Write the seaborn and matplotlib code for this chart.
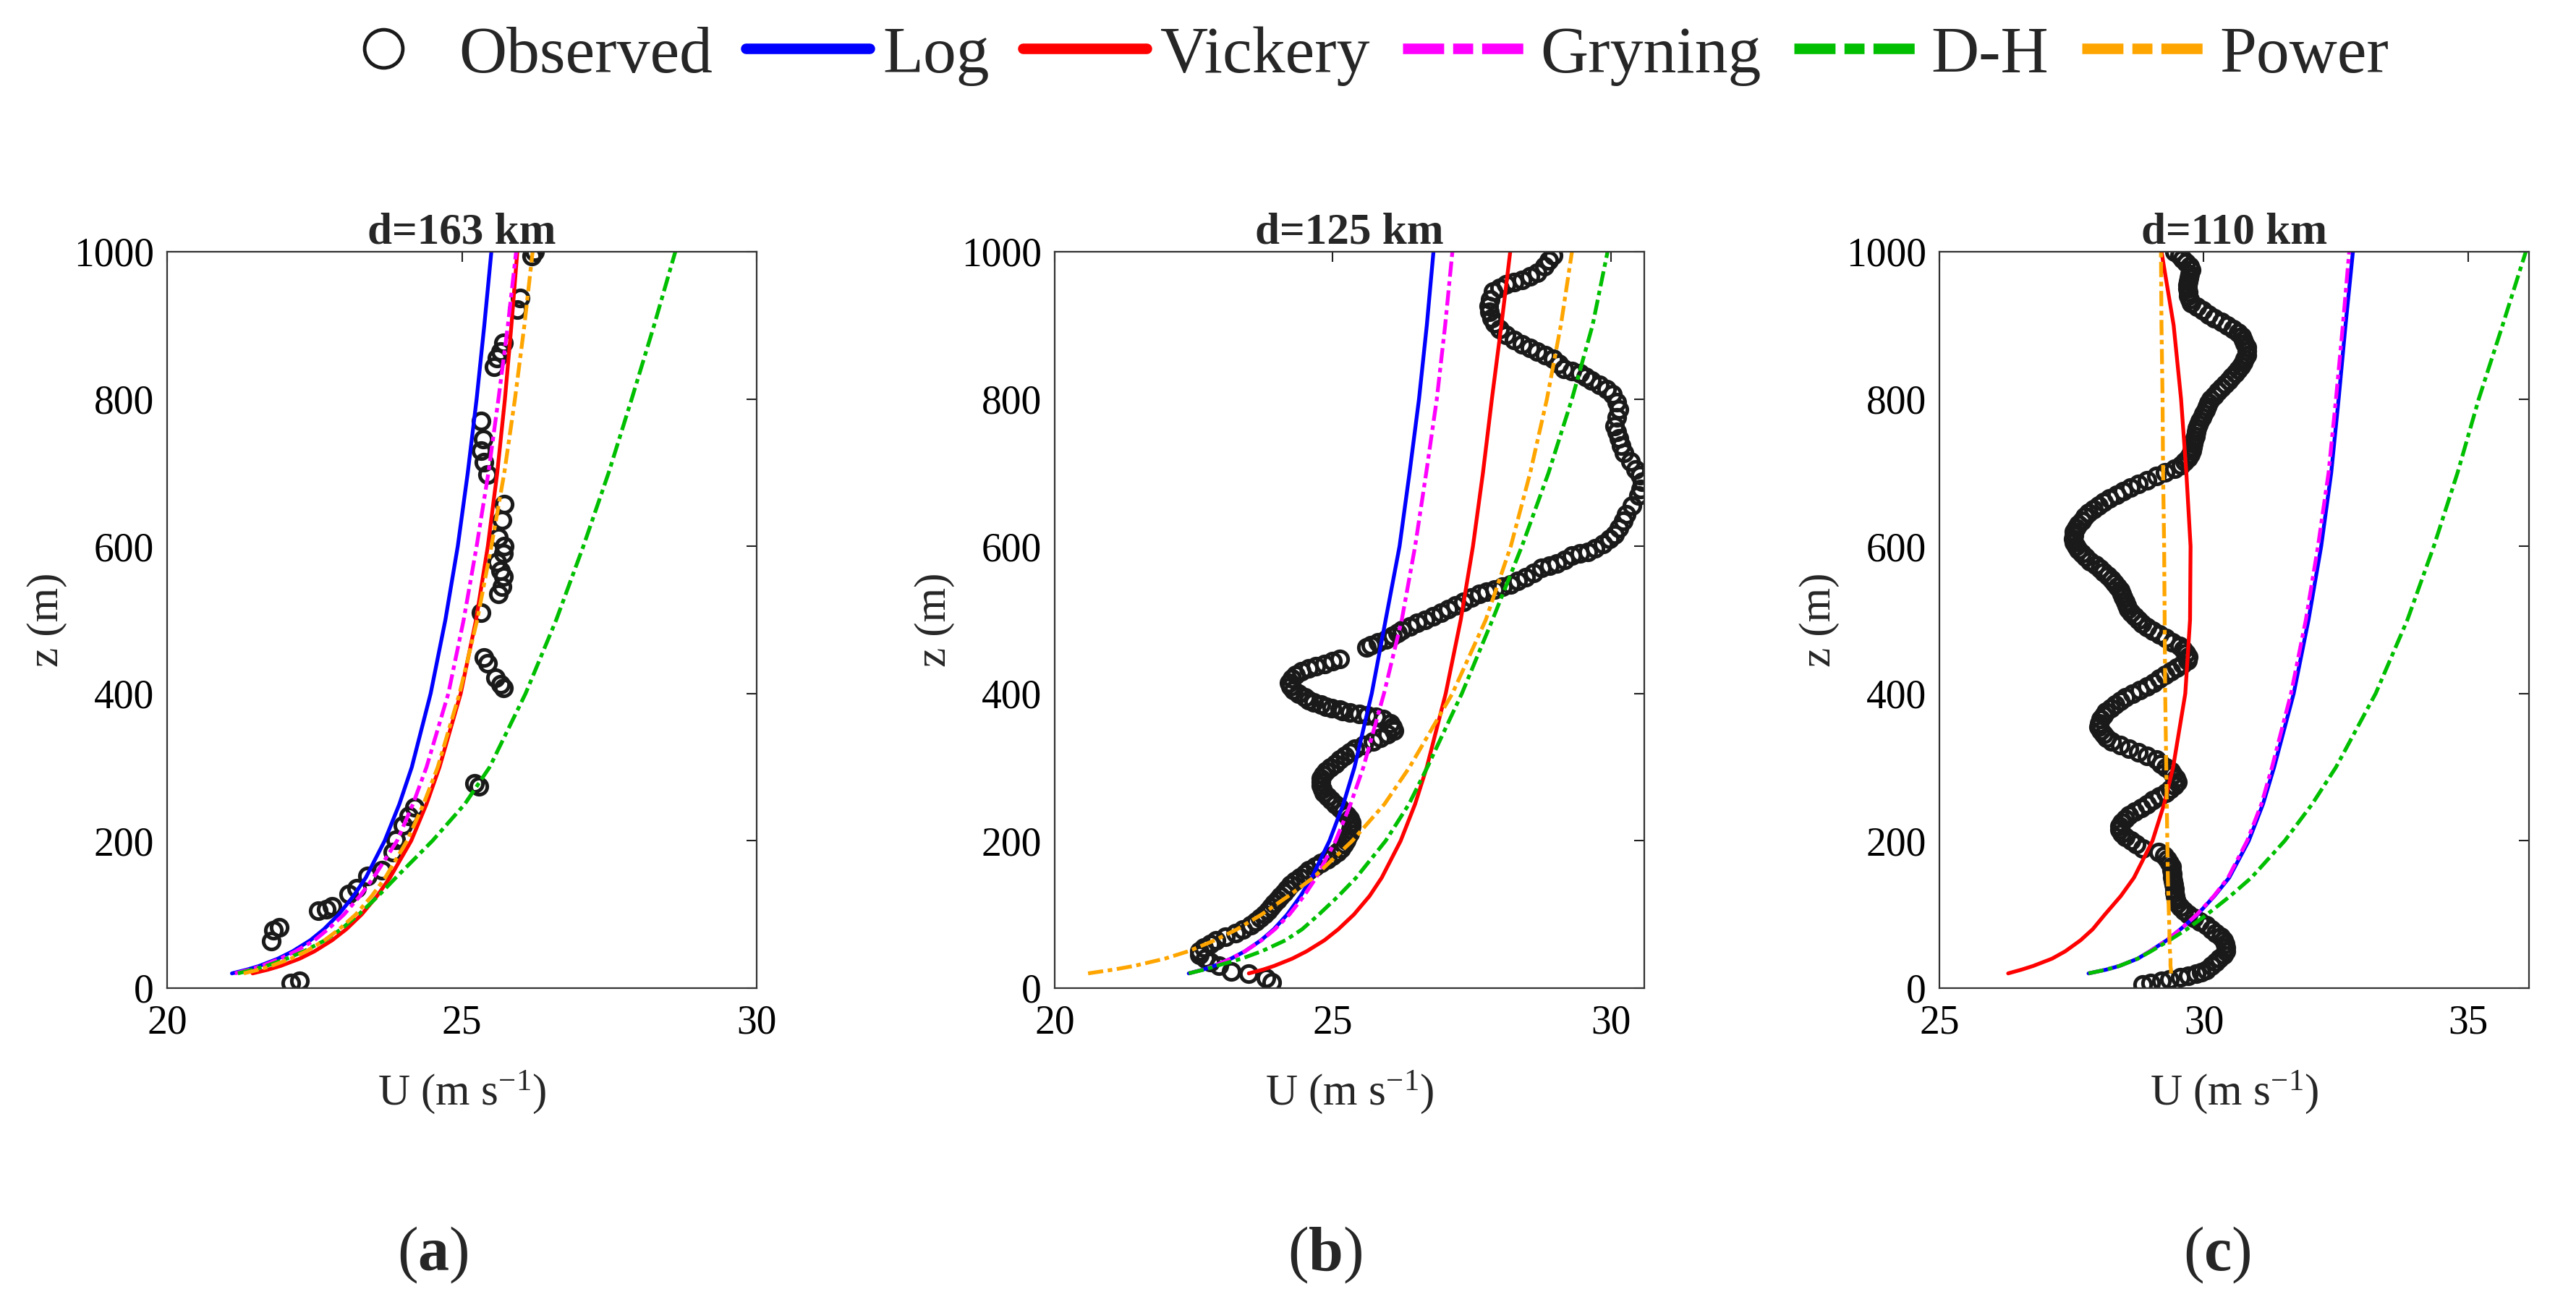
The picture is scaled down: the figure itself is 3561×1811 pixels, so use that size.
import matplotlib.pyplot as plt
import seaborn as sns
from matplotlib.lines import Line2D

Z_FIT = [20, 25, 30, 40, 50, 65, 80, 100, 125, 150, 200, 250, 300, 400, 500, 600, 700, 800, 900, 1000]

# ---- panel (a), d=163 km ----
LOG_A = [21.10, 21.35, 21.56, 21.88, 22.13, 22.43, 22.66, 22.91, 23.16, 23.37, 23.69, 23.94, 24.15, 24.47,
         24.72, 24.93, 25.10, 25.25, 25.38, 25.50]
VICKERY_A = [21.45, 21.71, 21.92, 22.25, 22.5, 22.8, 23.04, 23.3, 23.56, 23.78, 24.14, 24.4, 24.62, 24.98,
             25.24, 25.44, 25.6, 25.73, 25.84, 25.94]
GRYNING_A = [21.15, 21.4, 21.6, 21.92, 22.18, 22.5, 22.73, 23.0, 23.27, 23.5, 23.9, 24.17, 24.4, 24.77,
             25.03, 25.25, 25.45, 25.62, 25.78, 25.92]
DH_A = [21.2, 21.45, 21.68, 22.03, 22.32, 22.68, 22.95, 23.25, 23.58, 23.88, 24.5, 25.05, 25.47, 26.08,
        26.6, 27.06, 27.49, 27.88, 28.26, 28.62]
POWER_A = [21.3, 21.55, 21.76, 22.1, 22.36, 22.67, 22.92, 23.2, 23.47, 23.7, 24.07, 24.35, 24.59, 24.96,
           25.26, 25.5, 25.72, 25.9, 26.06, 26.2]
# observed (U, z)
OBS_A = [
    (22.25, 10), (22.1, 7), (21.77, 64), (21.8, 79), (21.9, 83), (22.56, 105), (22.7, 107), (22.8, 111),
    (23.08, 128), (23.22, 136), (23.4, 152), (23.64, 160), (23.83, 185), (23.88, 201), (24.0, 221),
    (24.1, 234), (24.2, 246), (25.22, 278), (25.29, 274), (25.71, 408), (25.66, 413), (25.57, 421),
    (25.43, 441), (25.38, 449), (25.33, 510), (25.62, 535), (25.68, 545), (25.7, 559), (25.66, 567),
    (25.6, 579), (25.7, 590), (25.72, 600), (25.62, 612), (25.68, 636), (25.72, 657), (25.43, 697),
    (25.38, 714), (25.33, 730), (25.36, 746), (25.33, 770), (25.55, 844), (25.66, 864), (25.6, 856),
    (25.7, 876), (25.94, 921), (25.99, 937), (26.18, 994), (26.23, 1000),
]

# ---- panel (b), d=125 km ----
LOG_B = [22.41, 22.66, 22.86, 23.17, 23.42, 23.71, 23.94, 24.18, 24.42, 24.62, 24.94, 25.19, 25.39, 25.7,
         25.95, 26.2, 26.38, 26.55, 26.69, 26.81]
VICKERY_B = [23.49, 23.74, 23.94, 24.27, 24.53, 24.85, 25.1, 25.38, 25.66, 25.88, 26.22, 26.48, 26.69, 27.03,
             27.3, 27.52, 27.7, 27.86, 28.03, 28.19]
GRYNING_B = [22.41, 22.66, 22.86, 23.17, 23.42, 23.72, 23.96, 24.22, 24.48, 24.7, 25.05, 25.32, 25.55, 25.92,
             26.24, 26.48, 26.68, 26.87, 27.02, 27.15]
DH_B = [22.41, 22.68, 22.9, 23.36, 23.72, 24.15, 24.45, 24.75, 25.1, 25.42, 25.95, 26.37, 26.7, 27.32,
        27.87, 28.4, 28.88, 29.3, 29.67, 29.94]
POWER_B = [20.6, 21.05, 21.42, 21.98, 22.4, 22.88, 23.28, 23.72, 24.2, 24.65, 25.35, 25.93, 26.38, 27.15,
           27.75, 28.2, 28.55, 28.85, 29.1, 29.3]
OBS_B = [
    (23.9, 8), (23.8, 14), (23.49, 20), (23.18, 23), (22.95, 30), (22.8, 35), (22.7, 40), (22.6, 45),
    (22.6, 50), (22.68, 55), (22.8, 60), (22.9, 65), (23.07, 70), (23.25, 75), (23.38, 80), (23.52, 85),
    (23.62, 90), (23.7, 95), (23.77, 100), (23.84, 105), (23.89, 110), (23.94, 115), (24.0, 120),
    (24.06, 125), (24.12, 130), (24.17, 135), (24.24, 140), (24.32, 145), (24.41, 150), (24.5, 155),
    (24.57, 160), (24.68, 165), (24.79, 170), (24.9, 175), (25.0, 180), (25.08, 185), (25.15, 190),
    (25.2, 195), (25.24, 200), (25.27, 205), (25.3, 210), (25.32, 215), (25.33, 220), (25.33, 225),
    (25.3, 230), (25.25, 235), (25.19, 240), (25.13, 245), (25.05, 250), (24.97, 255), (24.9, 260),
    (24.84, 265), (24.81, 270), (24.79, 275), (24.78, 280), (24.78, 285), (24.82, 290), (24.88, 295),
    (24.96, 300), (25.04, 305), (25.12, 310), (25.22, 315), (25.3, 320), (25.4, 325), (25.55, 330),
    (25.72, 335), (25.85, 340), (25.98, 345), (26.1, 350), (26.08, 355), (26.04, 360), (25.9, 365),
    (25.78, 368), (25.62, 370), (25.47, 372), (25.3, 374), (25.18, 376), (25.13, 378), (24.98, 380),
    (24.88, 382), (24.78, 385), (24.66, 388), (24.57, 391), (24.5, 395), (24.38, 400), (24.29, 405),
    (24.24, 410), (24.22, 415), (24.27, 420), (24.33, 425), (24.44, 430), (24.57, 434), (24.7, 437),
    (24.85, 440), (25.0, 444), (25.13, 447), (25.6, 463), (25.68, 466), (25.82, 470), (25.96, 473),
    (26.08, 478), (26.17, 482), (26.24, 486), (26.38, 491), (26.52, 496), (26.66, 500), (26.8, 505),
    (26.94, 510), (27.08, 515), (27.21, 520), (27.35, 525), (27.49, 530), (27.63, 535), (27.77, 538),
    (27.91, 541), (28.05, 545), (28.19, 548), (28.33, 553), (28.47, 558), (28.61, 564), (28.75, 571),
    (28.89, 574), (29.03, 577), (29.17, 582), (29.3, 587), (29.44, 590), (29.58, 592), (29.72, 597),
    (29.86, 603), (29.97, 610), (30.07, 616), (30.15, 625), (30.22, 635), (30.28, 643), (30.38, 655),
    (30.49, 669), (30.53, 678), (30.56, 688), (30.52, 696), (30.45, 704), (30.35, 715), (30.24, 727),
    (30.18, 737), (30.14, 747), (30.1, 755), (30.07, 763), (30.1, 775), (30.14, 786), (30.1, 796),
    (30.03, 806), (29.92, 813), (29.79, 819), (29.65, 825), (29.55, 830), (29.44, 835), (29.3, 838),
    (29.16, 841), (29.06, 848), (28.96, 855), (28.82, 860), (28.68, 864), (28.54, 869), (28.4, 874),
    (28.26, 880), (28.12, 887), (28.0, 895), (27.91, 903), (27.86, 910), (27.82, 918), (27.81, 926),
    (27.83, 935), (27.88, 946), (28.0, 951), (28.12, 956), (28.26, 959), (28.4, 962), (28.54, 967),
    (28.68, 972), (28.8, 980), (28.88, 988), (28.96, 995),
]

# ---- panel (c), d=110 km ----
LOG_C = [27.82, 28.15, 28.4, 28.75, 28.98, 29.3, 29.56, 29.88, 30.2, 30.48, 30.85, 31.12, 31.33, 31.7,
         31.98, 32.22, 32.41, 32.55, 32.68, 32.82]
VICKERY_C = [26.3, 26.55, 26.77, 27.13, 27.38, 27.67, 27.9, 28.13, 28.43, 28.68, 29.03, 29.25, 29.42, 29.65,
             29.74, 29.75, 29.67, 29.57, 29.43, 29.2]
GRYNING_C = [27.82, 28.15, 28.4, 28.75, 28.98, 29.3, 29.56, 29.87, 30.19, 30.46, 30.82, 31.09, 31.29, 31.65,
             31.93, 32.16, 32.36, 32.5, 32.63, 32.75]
DH_C = [27.82, 28.15, 28.4, 28.75, 29.0, 29.35, 29.68, 30.06, 30.5, 30.9, 31.53, 32.05, 32.5, 33.25,
        33.85, 34.35, 34.8, 35.2, 35.65, 36.09]
POWER_C = [29.38, 29.38, 29.37, 29.37, 29.36, 29.35, 29.35, 29.34, 29.33, 29.32, 29.31, 29.3, 29.29, 29.27,
           29.26, 29.25, 29.23, 29.22, 29.2, 29.19]
OBS_C = [
    (28.85, 5), (29.0, 7), (29.2, 10), (29.35, 12), (29.55, 15), (29.7, 17), (29.85, 20), (29.95, 22),
    (30.05, 25), (30.14, 30), (30.22, 35), (30.3, 40),
    (30.37, 45), (30.42, 50), (30.42, 55), (30.4, 60), (30.37, 65), (30.32, 70), (30.23, 75), (30.15, 80),
    (30.05, 85), (29.92, 90), (29.81, 95), (29.7, 100), (29.62, 105), (29.55, 110), (29.5, 115), (29.48, 120),
    (29.46, 125), (29.45, 130), (29.44, 135), (29.43, 140), (29.42, 145), (29.41, 150), (29.4, 155), (29.39, 160),
    (29.39, 165), (29.35, 170), (29.31, 175), (29.26, 180), (29.15, 185), (28.85, 190), (28.72, 195), (28.62, 200),
    (28.51, 205), (28.45, 210), (28.41, 215), (28.41, 220), (28.45, 225), (28.52, 230), (28.59, 235), (28.7, 240),
    (28.82, 245), (28.93, 250), (29.04, 255), (29.16, 260), (29.28, 265), (29.37, 270), (29.44, 275), (29.5, 280),
    (29.47, 285), (29.42, 290), (29.38, 295), (29.28, 300), (29.19, 305), (29.1, 310), (28.93, 315), (28.76, 320),
    (28.59, 325), (28.42, 330), (28.25, 335), (28.16, 340), (28.1, 345), (28.05, 350), (28.01, 355), (28.02, 360),
    (28.05, 365), (28.1, 370), (28.15, 375), (28.24, 380), (28.33, 385), (28.42, 390), (28.51, 395), (28.65, 400),
    (28.79, 405), (28.93, 410), (29.05, 415), (29.16, 420), (29.27, 425), (29.38, 430), (29.49, 435), (29.6, 440),
    (29.69, 445), (29.71, 450), (29.67, 455), (29.61, 460), (29.54, 465), (29.41, 470), (29.28, 475), (29.16, 480),
    (29.04, 485), (28.92, 490), (28.83, 495), (28.76, 500), (28.69, 505), (28.62, 510), (28.57, 515), (28.54, 520),
    (28.51, 525), (28.48, 530), (28.45, 535), (28.42, 540), (28.36, 545), (28.31, 550), (28.25, 555), (28.19, 560),
    (28.11, 565), (28.04, 570), (27.96, 575), (27.85, 580), (27.77, 585), (27.69, 590), (27.63, 595), (27.58, 600),
    (27.54, 605), (27.53, 610), (27.54, 615), (27.55, 620), (27.58, 625), (27.63, 630), (27.69, 635), (27.75, 640),
    (27.82, 645), (27.91, 650), (28.01, 655), (28.11, 660), (28.22, 665), (28.35, 670), (28.48, 675), (28.61, 680),
    (28.76, 685), (28.93, 690), (29.1, 695), (29.27, 700), (29.44, 705), (29.57, 710), (29.64, 715), (29.7, 720),
    (29.75, 725), (29.77, 730), (29.79, 735), (29.8, 740), (29.82, 745), (29.84, 750), (29.86, 755), (29.87, 760),
    (29.9, 765), (29.93, 770), (29.96, 775), (29.99, 780), (30.03, 785), (30.06, 790), (30.09, 795), (30.13, 800),
    (30.2, 805), (30.27, 810), (30.33, 815), (30.4, 820), (30.47, 825), (30.53, 830), (30.59, 835), (30.65, 840),
    (30.7, 845), (30.74, 850), (30.78, 855), (30.81, 860), (30.82, 865), (30.81, 870), (30.78, 875), (30.75, 880),
    (30.72, 885), (30.65, 890), (30.55, 895), (30.44, 900), (30.33, 905), (30.2, 910), (30.09, 915), (29.98, 920),
    (29.87, 925), (29.76, 930), (29.73, 935), (29.71, 940), (29.7, 945), (29.69, 950), (29.69, 955), (29.7, 960),
    (29.72, 965), (29.74, 970), (29.76, 975), (29.74, 980), (29.67, 985), (29.6, 990), (29.54, 995), (29.45, 1000),
]

TITLES = ['d=163 km', 'd=125 km', 'd=110 km']
PANEL_TAGS = ['a', 'b', 'c']
X_LIMITS = [(20, 30), (20, 30.6), (25, 36.15)]
X_TICKS = [[20, 25, 30], [20, 25, 30], [25, 30, 35]]
Y_TICKS = [0, 200, 400, 600, 800, 1000]

MODEL_NAMES = ['Log', 'Vickery', 'Gryning', 'D-H', 'Power']
PANEL_MODELS = [
    [LOG_A, VICKERY_A, GRYNING_A, DH_A, POWER_A],
    [LOG_B, VICKERY_B, GRYNING_B, DH_B, POWER_B],
    [LOG_C, VICKERY_C, GRYNING_C, DH_C, POWER_C],
]
PANEL_OBS = [OBS_A, OBS_B, OBS_C]

COLORS = ['#0000ff', '#ff0000', '#ff00ff', '#00bf00', '#ffa500']
DASHDOT = (0, (4.0, 1.2, 1.2, 1.2))
LEG_DASHDOT = (0, (3.9, 0.85, 1.9, 0.85))
STYLES = ['-', '-', DASHDOT, DASHDOT, DASHDOT]
LEG_STYLES = ['-', '-', LEG_DASHDOT, LEG_DASHDOT, LEG_DASHDOT]

sns.set_theme(style='white')
plt.rcParams['font.family'] = ['Liberation Serif', 'DejaVu Serif']
plt.rcParams['mathtext.fontset'] = 'custom'
plt.rcParams['mathtext.rm'] = 'Liberation Serif'
plt.rcParams['mathtext.it'] = 'Liberation Serif:italic'
plt.rcParams['mathtext.bf'] = 'Liberation Serif:bold'

W, H = 3561, 1811
fig = plt.figure(figsize=(W / 100, H / 100), dpi=100, facecolor='white')

ax_lefts = [231, 1458, 2681]
ax_top, ax_bottom, ax_width = 348, 1366, 815
tag_x = [598, 1832, 3065]

for i in range(3):
    ax = fig.add_axes([ax_lefts[i] / W, 1 - ax_bottom / H, ax_width / W, (ax_bottom - ax_top) / H])

    obs_u = [p[0] for p in PANEL_OBS[i]]
    obs_z = [p[1] for p in PANEL_OBS[i]]
    sns.lineplot(x=obs_u, y=obs_z, ax=ax, sort=False, estimator=None, color='k',
                 linestyle='none', marker='o', ms=16, mfc='none', mec='k', mew=3.6)

    for name, vals, col, ls in zip(MODEL_NAMES, PANEL_MODELS[i], COLORS, STYLES):
        sns.lineplot(x=vals, y=Z_FIT, ax=ax, sort=False, estimator=None,
                     color=col, linestyle=ls, lw=3.8)

    ax.set_xlim(*X_LIMITS[i])
    ax.set_ylim(0, 1000)
    ax.set_xticks(X_TICKS[i])
    ax.set_yticks(Y_TICKS)
    ax.tick_params(direction='in', length=10, width=1.5, top=True, right=True,
                   labelsize=40, colors='#222222', labelcolor='black')
    ax.tick_params(axis='y', pad=13)
    ax.tick_params(axis='x', pad=16)
    for sp in ax.spines.values():
        sp.set_linewidth(1.6)
        sp.set_color('#333333')

    ax.set_title(TITLES[i], fontsize=44, fontweight='bold', pad=8)
    ax.set_xlabel(r'U (m s$^{-1}$)', fontsize=44)
    ax.set_ylabel('z (m)', fontsize=44)
    ax.xaxis.set_label_coords(0.5, -0.142)
    ax.xaxis.label.set_va('center')
    ax.yaxis.set_label_coords(-0.203, 0.5)
    ax.yaxis.label.set_va('center')

    fig.text(tag_x[i] / W, 1 - 1735 / H, r'($\mathbf{%s}$)' % PANEL_TAGS[i],
             ha='center', va='center', fontsize=62)

# shared legend on top
handles = [Line2D([], [], linestyle='none', marker='o', ms=38, mfc='none', mec='k', mew=3.5)]
for col, ls in zip(COLORS, LEG_STYLES):
    handles.append(Line2D([], [], color=col, linestyle=ls, lw=10.5))
fig.legend(handles, ['Observed'] + MODEL_NAMES, loc='center', bbox_to_anchor=(0.526, 1 - 77 / H),
           ncol=6, frameon=False, fontsize=66, handlelength=1.87, handletextpad=0.2,
           columnspacing=0.5, borderaxespad=0)

fig.savefig('out.png', dpi=100, facecolor='white')
